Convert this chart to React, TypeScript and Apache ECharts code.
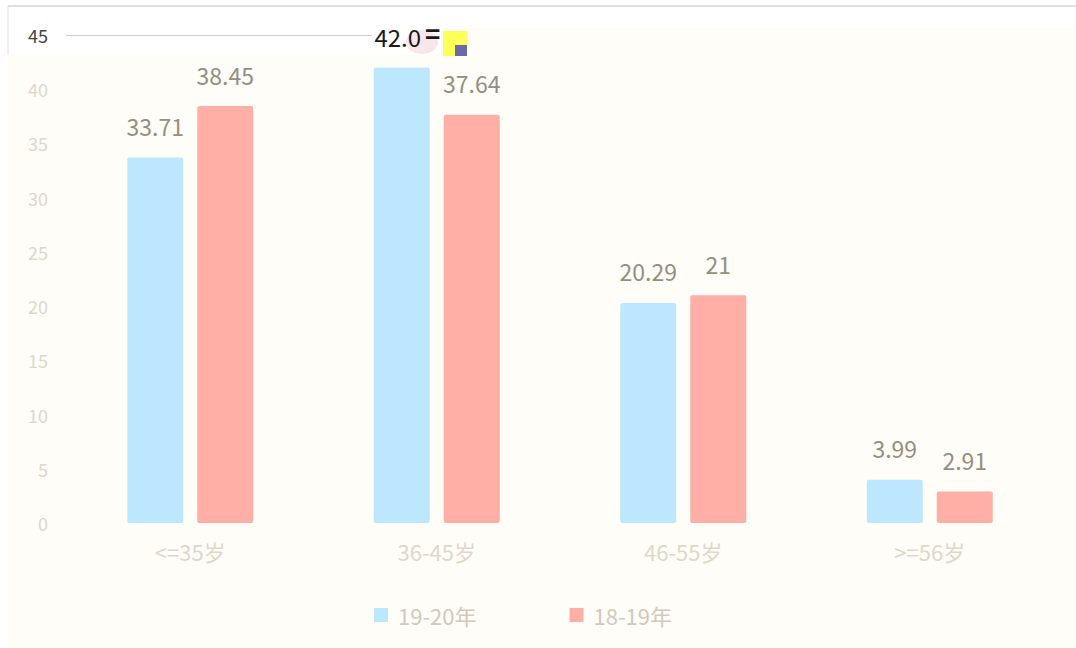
import React, { useEffect, useRef } from "react";
import * as echarts from "echarts";

const categories = ["<=35岁", "36-45岁", "46-55岁", ">=56岁"];
const seriesNames = ["19-20年", "18-19年"];
const values1920 = [33.71, 42.0, 20.29, 3.99];
const values1819 = [38.45, 37.64, 21, 2.91];
const labels1920 = ["33.71", "42.0", "20.29", "3.99"];
const labels1819 = ["38.45", "37.64", "21", "2.91"];

const FONT = '"Noto Sans CJK SC", "Open Sans", sans-serif';
const CREAM = "#FFFDF7";
const LABEL = "#958F82";
const TICK = "#DDD8CB";

export default function App() {
  const ref = useRef<HTMLDivElement>(null);
  useEffect(() => {
    document.body.style.margin = "0";
    const chart = echarts.init(ref.current!, undefined, { renderer: "svg" });
    chart.setOption({
      animation: false,
      backgroundColor: "#FFFFFF",
      textStyle: { fontFamily: FONT },
      graphic: [
        { type: "rect", z: -10, silent: true, shape: { x: 8, y: 55, width: 1068, height: 593 }, style: { fill: CREAM } },
        { type: "rect", z: -10, silent: true, shape: { x: 470, y: 28, width: 606, height: 28 }, style: { fill: CREAM } },
        { type: "line", z: -9, silent: true, shape: { x1: 8, y1: 6, x2: 1076, y2: 6 }, style: { stroke: "#D4D4D8", lineWidth: 1.5 } },
        { type: "line", z: -9, silent: true, shape: { x1: 8, y1: 6, x2: 8, y2: 55 }, style: { stroke: "#E2E2E4", lineWidth: 1 } },
        { type: "line", z: -9, silent: true, shape: { x1: 66, y1: 35.5, x2: 372, y2: 35.5 }, style: { stroke: "#CFCFD2", lineWidth: 1 } },
        { type: "ellipse", z: -8, silent: true, shape: { cx: 422, cy: 42, rx: 16, ry: 12 }, style: { fill: "#F8E6EA" } },
        { type: "rect", z: 5, silent: true, shape: { x: 443, y: 31, width: 24, height: 25 }, style: { fill: "#FFFF5A" } },
        { type: "rect", z: 6, silent: true, shape: { x: 455, y: 45, width: 12, height: 11 }, style: { fill: "#6A6AA8" } },
        { type: "text", z: 6, silent: true, x: 425, y: 19, style: { text: "=", fontSize: 26, fontWeight: 700, fill: "#1A1A1A", fontFamily: FONT } },
      ],
      grid: { left: 67, right: 23, top: 35, bottom: 125 },
      legend: {
        show: true,
        left: 369,
        top: 599,
        icon: "rect",
        itemWidth: 14,
        itemHeight: 14,
        itemGap: 93,
        textStyle: { color: "#CFCABD", fontSize: 22, fontFamily: FONT, padding: [0, 0, 0, 5] },
        data: seriesNames,
      },
      xAxis: {
        type: "category",
        data: categories,
        axisLine: { show: false },
        axisTick: { show: false },
        axisLabel: { color: TICK, fontSize: 22, margin: 17, fontFamily: FONT },
      },
      yAxis: {
        type: "value",
        min: 0,
        max: 45,
        interval: 5,
        axisLine: { show: false },
        axisTick: { show: false },
        splitLine: { show: false },
        axisLabel: {
          fontSize: 18,
          margin: 19,
          fontFamily: FONT,
          color: TICK,
          formatter: (v: number) => (Number(v) === 45 ? `{top|${v}}` : `${v}`),
          rich: { top: { color: "#444444", fontSize: 18, fontFamily: FONT } },
        },
      },
      series: [
        {
          name: seriesNames[0],
          type: "bar",
          barWidth: 56,
          barGap: "25%",
          itemStyle: { color: "#BDE7FF", borderRadius: 2 },
          data: values1920.map((value, i) =>
            i === 1
              ? { value, label: { color: "#1A1A1A", distance: 19, fontSize: 24, offset: [-4, 0] } }
              : { value }
          ),
          label: {
            show: true,
            position: "top",
            distance: 20,
            fontSize: 23,
            color: LABEL,
            fontFamily: FONT,
            formatter: (p: any) => labels1920[p.dataIndex],
          },
        },
        {
          name: seriesNames[1],
          type: "bar",
          barWidth: 56,
          itemStyle: { color: "#FFAFA6", borderRadius: 2 },
          data: values1819,
          label: {
            show: true,
            position: "top",
            distance: 20,
            fontSize: 23,
            color: LABEL,
            fontFamily: FONT,
            formatter: (p: any) => labels1819[p.dataIndex],
          },
        },
      ],
    });
    return () => chart.dispose();
  }, []);
  return <div ref={ref} style={{ width: 1076, height: 648 }} />;
}
